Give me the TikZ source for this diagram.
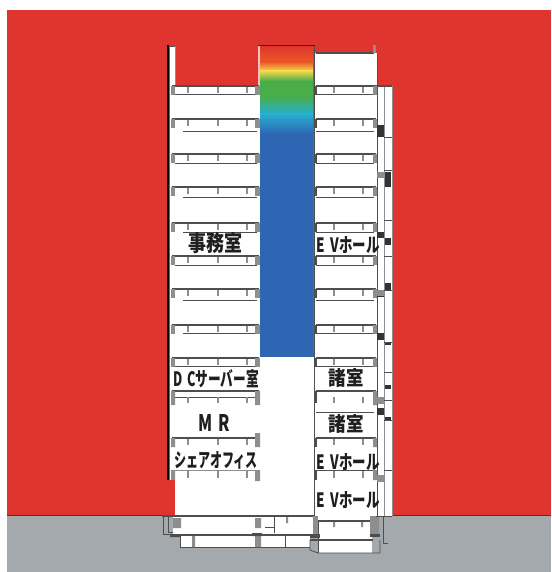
\documentclass[tikz,border=0pt]{standalone}
\usepackage{fontspec}
\setmainfont{Noto Sans CJK JP}
\definecolor{redbg}{HTML}{E0352E}
\definecolor{greyg}{HTML}{A4A9AD}
\definecolor{cblue}{HTML}{2F66B4}
\definecolor{cyanv}{HTML}{27B0CF}
\definecolor{greenv}{HTML}{49AD4A}
\definecolor{yellowv}{HTML}{F2D84C}
\definecolor{orangev}{HTML}{EC5A2A}
\definecolor{lineg}{HTML}{4E4E4E}
\definecolor{colg}{HTML}{8E8E8E}
\definecolor{horizon}{HTML}{7A1F22}
\tikzset{
 floorline/.style={draw=lineg,line width=1.6pt},
 thinline/.style={draw=lineg,line width=.5pt},
 lbl/.style={text=black!88,inner sep=0pt}
}
\newcommand{\lab}[3]{\resizebox{#1pt}{#2pt}{\bfseries #3}}
\begin{document}
\begin{tikzpicture}[x=1pt,y=-1pt]
\useasboundingbox (0,0) rectangle (551,572);
\fill[white] (0,0) rectangle (551,572);
\fill[redbg] (7,10) rectangle (551,516);
\fill[greyg] (7,516) rectangle (551,572);
\draw[horizon,line width=1pt] (7,515.5) -- (551,515.5);
% building white
\fill[white] (170,46) rectangle (175,86);
\fill[white] (170,86) rectangle (260,480);
\fill[white] (175,480) rectangle (260,516);
\fill[white] (315,53) rectangle (377,521);
\fill[white] (377,86) rectangle (392,516);
\fill[white] (260,357) rectangle (315,516);
% void gradient
\shade[top color=redbg,bottom color=orangev] (260,46) rectangle (313,62);
\shade[top color=orangev,bottom color=yellowv] (260,62) rectangle (313,71);
\shade[top color=yellowv,bottom color=greenv] (260,71) rectangle (313,81);
\fill[greenv] (260,81) rectangle (313,96);
\shade[top color=greenv,bottom color=cyanv] (260,96) rectangle (313,114);
\shade[top color=cyanv,bottom color=cblue] (260,114) rectangle (313,134);
\fill[cblue] (260,134) rectangle (313,357);
\draw[red!55!black,line width=.8pt] (258,45.5) -- (315,45.5);
\fill[red!25!white] (258,46) rectangle (260,86);
% outer lines
\draw[black,line width=2pt] (168,45) -- (168,480);
\draw[lineg,line width=.5pt] (170,46) -- (175,46);
\draw[colg,line width=.8pt] (175,46) -- (175,86);
\draw[lineg,line width=.9pt] (314,46) -- (314,516);
\draw[lineg,line width=.6pt] (377,54) -- (377,516);
\draw[colg,line width=.6pt] (384,86) -- (384,516);
\draw[colg,line width=.6pt] (392,86) -- (392,516);
\draw[lineg,line width=1.6pt] (316,53) -- (374,53);
\fill[colg] (373,45) rectangle (376,53);
\draw[lineg,line width=1.4pt] (173,86) -- (258,86) (376,86) -- (392,86);
% floors
\foreach \y/\lo/\st in {86/94/175,119/131/183,154/163/175,187/197/183,223/232/183,256/265/175,289/300/183,325/333/183,358/366/175}{
 \draw[floorline] (172,\y) -- (259,\y);
 \draw[floorline] (316,\y) -- (376,\y);
 \draw[lineg,line width=.8pt] (\st,\lo) -- (257,\lo);
 \draw[lineg,line width=.8pt] (316,\lo) -- (374,\lo);
 \fill[colg] (171,\y) rectangle (175,\y+9);
 \fill[colg] (255,\y) rectangle (260,\y+9);
 \fill[colg] (373,\y) rectangle (377,\y+9);
 \fill[lineg] (315,\y) rectangle (317,\y+9);
 \foreach \x in {188,218,247,334,363}{\fill[colg] (\x-1,\y+1) rectangle (\x+1,\y+7);}
}
% lower floors
\draw[floorline] (172,391) -- (259,391) (316,391) -- (376,391);
\draw[lineg,line width=.8pt] (175,397) -- (257,397) (316,412) -- (374,412);
\fill[colg] (171,391) rectangle (175,405) (255,391) rectangle (260,405) (373,391) rectangle (377,405);
\fill[lineg] (315,391) rectangle (317,403);
\foreach \x in {188,218,247,334,363}{\fill[colg] (\x-1,397) rectangle (\x+1,403);}
\draw[floorline] (172,438) -- (259,438) (316,438) -- (376,438);
\fill[colg] (171,438) rectangle (175,447) (255,433) rectangle (260,447) (373,438) rectangle (377,447);
\fill[lineg] (315,438) rectangle (317,447);
\foreach \x in {188,218,247,334,363}{\fill[colg] (\x-1,439) rectangle (\x+1,445);}
\draw[lineg,line width=.8pt] (316,470) -- (376,470);
\draw[colg,line width=.6pt] (172,470) -- (259,470);
\fill[colg] (171,470) rectangle (175,480) (255,470) rectangle (260,481) (373,470) rectangle (377,480);
\fill[lineg] (315,470) rectangle (317,480);
\foreach \x in {188,218,247,334,363}{\fill[colg] (\x-1,471) rectangle (\x+1,478);}
% riser details
\foreach \y/\h in {125/12,232/6,293/4,333/7,408/7}{\fill[black!80] (377,\y) rectangle (384,\y+\h);}
\foreach \y/\h in {172/15,238/7,283/7,342/3,385/4,417/4}{\fill[black!80] (385,\y) rectangle (391,\y+\h);}
\foreach \y/\h in {172/6,290/6,397/7,475/7}{\fill[colg] (377,\y) rectangle (384,\y+\h);}
\foreach \y in {137,170,220,256,290,342,372,400,420,470}{\draw[thinline] (384,\y) -- (392,\y);}
% basement
\fill[white] (173,516) rectangle (314,535);
\fill[white] (180,535) rectangle (310,547);
\fill[white] (318,521) rectangle (372,553);
\draw[lineg,line width=1.2pt] (162,516) -- (314,516);
\draw[lineg,line width=1.4pt] (173,535) -- (310,535);
\draw[lineg,line width=.8pt] (163,516) -- (163,534) -- (173,534);
\draw[lineg,line width=.8pt] (168,516) -- (168,532) -- (173,532);
\draw[lineg,line width=1pt] (180,535) -- (180,547) -- (310,547);
\draw[lineg,line width=.8pt] (274,516) -- (274,533) (265,527) -- (274,527) (285,535) -- (285,547);
\fill[colg] (173,518) rectangle (181,528) (255,518) rectangle (261,528) (192,536) rectangle (195,547) (255,536) rectangle (261,547) (286,517) rectangle (288,523);
\fill[black!70] (170,534) rectangle (180,537) (252,533) rectangle (262,536);
\fill[colg] (313,516) rectangle (318,534);
\fill[black!70] (310,534) rectangle (320,538);
\draw[lineg,line width=1.4pt] (318,521) -- (370,521);
\draw[lineg,line width=1.4pt] (310,540) -- (373,540);
\draw[lineg,line width=.8pt] (310,540) -- (310,550) -- (318,553) -- (380,553) -- (380,540);
\draw[lineg,line width=.8pt] (318,521) -- (318,553);
\fill[colg] (370,516) rectangle (379,534) (333,522) rectangle (335,527) (361,522) rectangle (363,527);
\fill[black!70] (370,534) rectangle (380,537);
\draw[lineg,line width=.8pt] (376,516) -- (392,516) (383,516) -- (383,543) -- (388,543);
% labels
\node[lbl] (a) at (215,243) {\lab{54}{19}{事務室}};
\node[lbl] (b) at (216,379) {\lab{86}{17}{D\hspace{.4em}Cサーバー室}};
\node[lbl] (c) at (214,423) {\lab{32}{17}{M\hspace{.4em}R}};
\node[lbl] (d) at (216,460) {\lab{84}{16}{シェアオフィス}};
\node[lbl] (e) at (348,245) {\lab{63}{16}{E\hspace{.4em}Vホール}};
\node[lbl] (f) at (346,378) {\lab{35}{17}{諸室}};
\node[lbl] (g) at (346,424) {\lab{35}{17}{諸室}};
\node[lbl] (h) at (348,462) {\lab{63}{16}{E\hspace{.4em}Vホール}};
\node[lbl] (i) at (348,500) {\lab{63}{16}{E\hspace{.4em}Vホール}};
\end{tikzpicture}
\end{document}
